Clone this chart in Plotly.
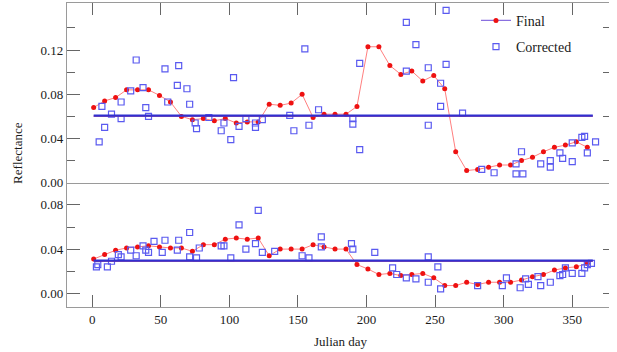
import plotly.graph_objects as go

# ---------------- data ----------------
final_days = [1, 9, 17, 25, 33, 41, 49, 57, 65, 73, 81, 89, 97, 105, 113, 121, 129, 137, 145, 153,
              161, 169, 177, 185, 193, 201, 209, 217, 225, 233, 241, 249, 257, 265, 273, 281, 289,
              297, 305, 313, 321, 329, 337, 345, 353, 361]

top_final = [0.068, 0.074, 0.077, 0.084, 0.084, 0.084, 0.079, 0.073, 0.060, 0.057, 0.058, 0.056,
             0.058, 0.054, 0.055, 0.055, 0.071, 0.070, 0.072, 0.080, 0.059, 0.062, 0.062, 0.062,
             0.069, 0.123, 0.123, 0.106, 0.098, 0.101, 0.092, 0.097, 0.085, 0.028, 0.011, 0.012,
             0.014, 0.016, 0.016, 0.020, 0.023, 0.028, 0.032, 0.034, 0.037, 0.032]

bot_final = [0.031, 0.035, 0.039, 0.041, 0.042, 0.043, 0.042, 0.041, 0.041, 0.038, 0.044, 0.044,
             0.049, 0.050, 0.049, 0.050, 0.034, 0.040, 0.040, 0.040, 0.044, 0.042, 0.040, 0.040,
             0.026, 0.022, 0.017, 0.018, 0.016, 0.017, 0.018, 0.014, 0.007, 0.007, 0.010, 0.008,
             0.010, 0.010, 0.010, 0.012, 0.015, 0.017, 0.021, 0.023, 0.024, 0.027]

top_corr_days = [5, 7, 9, 14, 21, 21, 28, 32, 37, 39, 41, 53, 55, 62, 63, 69, 71, 75, 76, 85,
                 94, 96, 101, 103, 107, 112, 119, 119, 124, 144, 147, 155, 158, 165, 190, 190,
                 195, 195, 229, 229, 236, 245, 245, 254, 254, 258, 258, 270, 284, 293, 309, 309,
                 313, 314, 327, 334, 334, 341, 343, 350, 350, 357, 359, 361, 367]
top_corr = [0.037, 0.069, 0.050, 0.062, 0.073, 0.058, 0.083, 0.111, 0.086, 0.068, 0.060, 0.103,
            0.073, 0.088, 0.106, 0.085, 0.071, 0.054, 0.049, 0.059, 0.047, 0.054, 0.039, 0.095,
            0.051, 0.058, 0.054, 0.050, 0.057, 0.061, 0.047, 0.121, 0.052, 0.066, 0.058, 0.053,
            0.108, 0.030, 0.145, 0.101, 0.125, 0.104, 0.052, 0.090, 0.069, 0.156, 0.107, 0.063,
            0.012, 0.009, 0.017, 0.008, 0.028, 0.008, 0.017, 0.020, 0.014, 0.027, 0.022, 0.019,
            0.036, 0.041, 0.042, 0.027, 0.037]

bot_corr_days = [3, 4, 11, 14, 19, 21, 28, 32, 37, 39, 41, 45, 51, 53, 62, 63, 71, 71, 76, 78,
                 94, 96, 101, 107, 112, 119, 121, 124, 133, 153, 158, 167, 167, 189, 190, 206,
                 219, 222, 229, 236, 245, 245, 252, 254, 281, 299, 302, 312, 316, 318, 325, 327,
                 334, 341, 343, 345, 350, 357, 359, 361, 364]
bot_corr = [0.024, 0.026, 0.024, 0.029, 0.035, 0.033, 0.039, 0.034, 0.043, 0.039, 0.037, 0.047,
            0.037, 0.048, 0.039, 0.048, 0.055, 0.033, 0.032, 0.041, 0.043, 0.043, 0.032, 0.062,
            0.040, 0.045, 0.075, 0.037, 0.038, 0.034, 0.032, 0.051, 0.042, 0.045, 0.040, 0.037,
            0.023, 0.017, 0.014, 0.013, 0.033, 0.010, 0.024, 0.004, 0.007, 0.007, 0.014, 0.005,
            0.013, 0.008, 0.015, 0.007, 0.010, 0.016, 0.017, 0.023, 0.018, 0.018, 0.023, 0.026,
            0.027]

mean_days = [1, 365]
top_mean_corr = 0.0607
top_mean_final = 0.0602
bot_mean_corr = 0.0295
bot_mean_final = 0.0290

x_ticks = [0, 50, 100, 150, 200, 250, 300, 350]
top_yticks = [0.0, 0.04, 0.08, 0.12]
top_yminor = [0.02, 0.06, 0.10, 0.14]
bot_yticks = [0.0, 0.04, 0.08]
bot_yminor = [0.02, 0.06]

# ---------------- style ----------------
RED = "#ee1111"
PINK = "#ff7f7f"
BLUE_SQ = "#5a5af0"
BLUE_LINE = "#3030d0"
FONT = "Liberation Serif, 'Times New Roman', Times, 'DejaVu Serif', serif"
AXC = "#9a9a9a"
TKC = "#666666"
TXT = "#1a1a1a"

fig = go.Figure()

def add_panel(xa, ya, yra, final, cdays, corr, mc, mf):
    fig.add_trace(go.Scatter(x=mean_days, y=[mf, mf], xaxis=xa, yaxis=yra, mode="lines",
                             line=dict(color="#e03060", width=1.2), showlegend=False, hoverinfo="skip"))
    fig.add_trace(go.Scatter(x=mean_days, y=[mc, mc], xaxis=xa, yaxis=yra, mode="lines",
                             line=dict(color=BLUE_LINE, width=2.2), showlegend=False, hoverinfo="skip"))
    fig.add_trace(go.Scatter(x=final_days, y=final, xaxis=xa, yaxis=ya, mode="lines+markers",
                             line=dict(color=PINK, width=1), marker=dict(color=RED, size=5),
                             showlegend=False))
    fig.add_trace(go.Scatter(x=cdays, y=corr, xaxis=xa, yaxis=ya, mode="markers",
                             marker=dict(symbol="square-open", color=BLUE_SQ, size=6,
                                         line=dict(width=1.2)), showlegend=False))

add_panel("x2", "y2", "y3", top_final, top_corr_days, top_corr, top_mean_corr, top_mean_final)
add_panel("x", "y", "y4", bot_final, bot_corr_days, bot_corr, bot_mean_corr, bot_mean_final)

# legend entries
fig.add_trace(go.Scatter(x=[None], y=[None], xaxis="x2", yaxis="y2", mode="lines+markers",
                         name="Final", legendgroup="a", line=dict(color="#8a70e0", width=1.2),
                         marker=dict(color=RED, size=5)))
fig.add_trace(go.Scatter(x=[None], y=[None], xaxis="x2", yaxis="y2", mode="markers",
                         name="Corrected", legendgroup="b",
                         marker=dict(symbol="square-open", color=BLUE_SQ, size=6, line=dict(width=1.2))))

XR = [-18.45, 376.8]
TOPR = [0, 0.1626]
BOTR = [-0.0124, 0.1001]
split = 0.4089
tickfont = dict(family=FONT, size=13, color=TXT)

common_x = dict(range=XR, tickvals=x_ticks, ticks="inside", ticklen=12, tickcolor=TKC,
                showline=True, linecolor=AXC, linewidth=1.2, showgrid=False,
                zeroline=False, tickfont=tickfont)

fig.update_layout(
    width=617, height=352,
    margin=dict(l=67, r=8, t=3, b=45),
    paper_bgcolor="white", plot_bgcolor="white",
    xaxis=dict(domain=[0, 1], anchor="y", side="bottom", mirror=False, **common_x),
    xaxis2=dict(domain=[0, 1], anchor="y2", side="top", showticklabels=False, mirror=True,
                matches="x", **common_x),
    yaxis=dict(domain=[0, split], anchor="x", range=BOTR, tickvals=bot_yticks, tickformat=".2f",
               ticks="inside", ticklen=13, tickcolor=TKC, showline=True, linecolor=AXC,
               linewidth=1.2, showgrid=False, zeroline=False, tickfont=tickfont,
               minor=dict(tickvals=bot_yminor, ticks="inside", ticklen=8, tickcolor=TKC)),
    yaxis2=dict(domain=[split, 1], anchor="x2", range=TOPR, tickvals=top_yticks, tickformat=".2f",
                ticks="inside", ticklen=13, tickcolor=TKC, showline=True, linecolor=AXC,
                linewidth=1.2, showgrid=False, zeroline=False, tickfont=tickfont,
                minor=dict(tickvals=top_yminor, ticks="inside", ticklen=8, tickcolor=TKC)),
    yaxis3=dict(overlaying="y2", side="right", anchor="x2", range=TOPR, tickvals=top_yminor,
                ticks="inside", ticklen=6, tickcolor=TKC, showline=False, showticklabels=False,
                showgrid=False, zeroline=False),
    yaxis4=dict(overlaying="y", side="right", anchor="x", range=BOTR, tickvals=bot_yticks,
                ticks="inside", ticklen=6, tickcolor=TKC, showline=False, showticklabels=False,
                showgrid=False, zeroline=False),
    legend=dict(x=0.7546, y=0.994, xanchor="left", yanchor="top", bgcolor="rgba(0,0,0,0)",
                font=dict(family=FONT, size=14, color=TXT), itemwidth=30,
                tracegroupgap=5),
    annotations=[
        dict(text="Reflectance", xref="paper", yref="paper", x=-0.0904, y=0.507, textangle=-90,
             showarrow=False, font=dict(family=FONT, size=13, color=TXT),
             xanchor="center", yanchor="middle"),
        dict(text="Julian day", xref="paper", yref="paper", x=0.5055, y=-0.115,
             showarrow=False, font=dict(family=FONT, size=13, color=TXT),
             xanchor="center", yanchor="middle"),
    ],
)

fig.write_html("out.html")
